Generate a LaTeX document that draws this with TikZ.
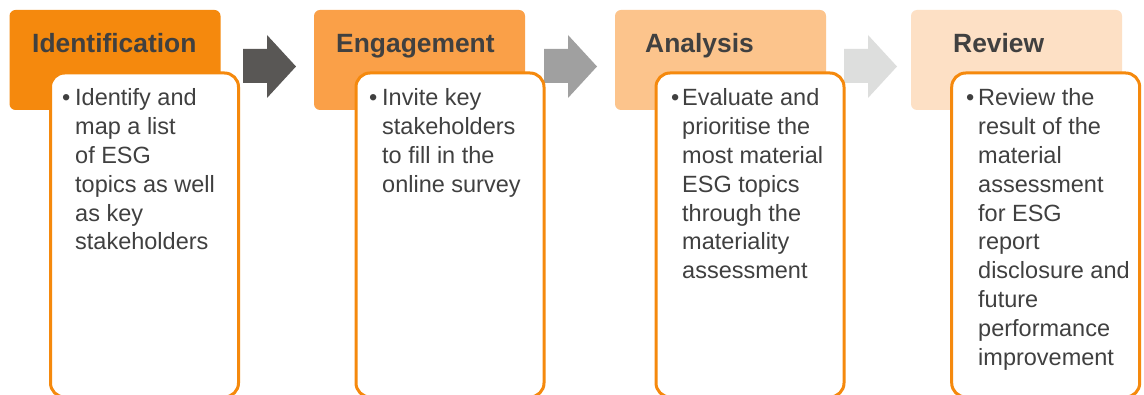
\documentclass[tikz,border=0pt]{standalone}
\usepackage{fontspec}
\setmainfont{Liberation Sans}
\definecolor{hA}{RGB}{245,137,13}
\definecolor{hB}{RGB}{250,160,72}
\definecolor{hC}{RGB}{252,196,140}
\definecolor{hD}{RGB}{253,224,197}
\definecolor{edge}{RGB}{245,137,13}
\definecolor{arA}{RGB}{89,87,85}
\definecolor{arB}{RGB}{160,160,160}
\definecolor{arC}{RGB}{221,222,221}
\definecolor{ink}{RGB}{64,64,64}
\tikzset{
  hdr/.style={anchor=north west, rounded corners=6pt, minimum width=211pt, minimum height=100pt, inner sep=0pt, outer sep=0pt},
  hdrtext/.style={anchor=base west, inner sep=0pt, text=ink, font=\fontsize{26.4}{30}\selectfont\bfseries},
  card/.style={anchor=north west, draw=edge, line width=3pt, fill=white, rounded corners=14pt, minimum width=188pt, minimum height=324pt, inner sep=0pt, outer sep=0pt},
  bul/.style={anchor=base west, inner sep=0pt, text=ink, font=\fontsize{23.5}{28.8}\selectfont},
  bodytext/.style={anchor=base west, inner sep=0pt, text=ink},
}
\newcommand{\cardlines}[1]{\parbox[t]{200pt}{\fontsize{23.5}{28.8}\selectfont\raggedright #1}}
\begin{document}
\begin{tikzpicture}[x=1pt,y=-1pt]
\clip (0,0) rectangle (1144,395);
\fill[white] (0,0) rectangle (1144,395);
% headers
\node[hdr, fill=hA] (h1) at (9.5,10) {};
\node[hdr, fill=hB] (h2) at (314,10) {};
\node[hdr, fill=hC] (h3) at (615,10) {};
\node[hdr, fill=hD] (h4) at (911,10) {};
\node[hdrtext] (t1) at (32,53) {Identification};
\node[hdrtext] (t2) at (336,53) {Engagement};
\node[hdrtext] (t3) at (645,53) {Analysis};
\node[hdrtext] (t4) at (953,53) {Review};
% block arrows
\fill[arA] (243,49) -- (267,49) -- (267,35) -- (296,66.5) -- (267,98) -- (267,83) -- (243,83) -- cycle;
\fill[arB] (544,49) -- (568,49) -- (568,35) -- (597,66.5) -- (568,98) -- (568,83) -- (544,83) -- cycle;
\fill[arC] (844,49) -- (868,49) -- (868,35) -- (897,66.5) -- (868,98) -- (868,83) -- (844,83) -- cycle;
% cards
\node[card] (c1) at (50.5,73) {};
\node[card] (c2) at (356,73) {};
\node[card] (c3) at (656,73) {};
\node[card] (c4) at (951.7,73) {};
% bullets
\node[bul] (b1) at (62,106) {•};
\node[bul] (b2) at (369,106) {•};
\node[bul] (b3) at (671,106) {•};
\node[bul] (b4) at (966,106) {•};
% texts
\node[bodytext] (x1) at (75,106) {\cardlines{Identify and\\map a list\\of ESG\\topics as well\\as key\\stakeholders}};
\node[bodytext] (x2) at (382,106) {\cardlines{Invite key\\stakeholders\\to fill in the\\online survey}};
\node[bodytext] (x3) at (682,106) {\cardlines{Evaluate and\\prioritise the\\most material\\ESG topics\\through the\\materiality\\assessment}};
\node[bodytext] (x4) at (978,106) {\cardlines{Review the\\result of the\\material\\assessment\\for ESG\\report\\disclosure and\\future\\performance\\improvement}};
\end{tikzpicture}
\end{document}
